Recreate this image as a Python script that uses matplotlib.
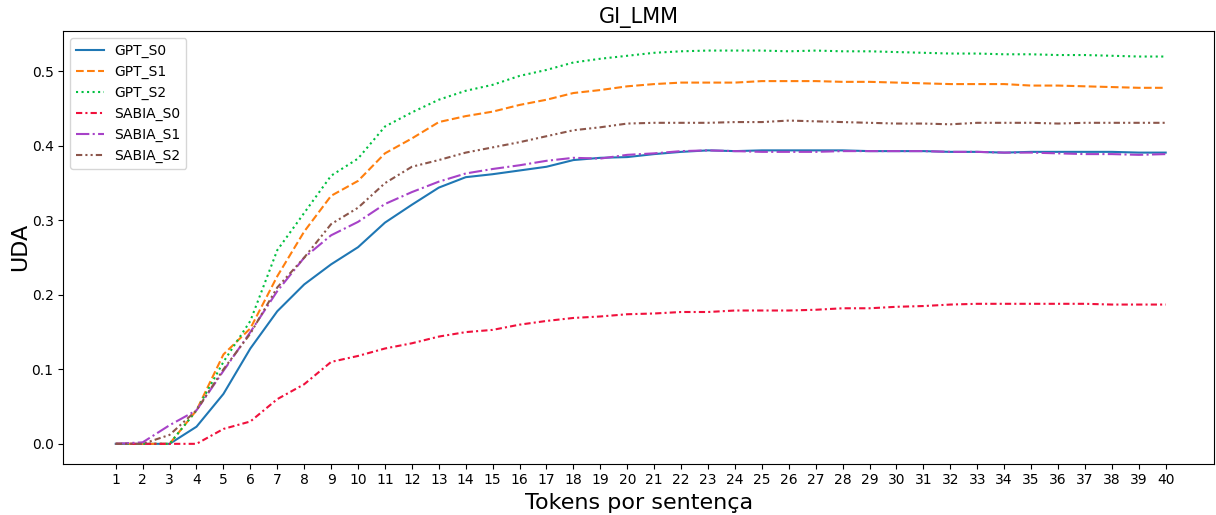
import numpy as np
import matplotlib
matplotlib.use('Agg')
import matplotlib.pyplot as plt

tokens = list(range(1, 41))

gpt_s0 = [0, 0, 0, 0.023, 0.067, 0.128, 0.178, 0.214, 0.241, 0.264,
          0.297, 0.321, 0.344, 0.358, 0.362, 0.367, 0.372, 0.381, 0.384, 0.385,
          0.389, 0.392, 0.394, 0.393, 0.394, 0.394, 0.394, 0.394, 0.393, 0.393,
          0.393, 0.392, 0.392, 0.391, 0.392, 0.392, 0.392, 0.392, 0.391, 0.391]
gpt_s1 = [0, 0, 0, 0.045, 0.12, 0.155, 0.225, 0.285, 0.333, 0.353,
          0.39, 0.41, 0.432, 0.44, 0.446, 0.455, 0.462, 0.471, 0.475, 0.48,
          0.483, 0.485, 0.485, 0.485, 0.487, 0.487, 0.487, 0.486, 0.486, 0.485,
          0.484, 0.483, 0.483, 0.483, 0.481, 0.481, 0.48, 0.479, 0.478, 0.478]
gpt_s2 = [0, 0, 0, 0.045, 0.11, 0.165, 0.26, 0.31, 0.36, 0.383,
          0.426, 0.445, 0.462, 0.474, 0.482, 0.494, 0.502, 0.512, 0.517, 0.521,
          0.525, 0.527, 0.528, 0.528, 0.528, 0.527, 0.528, 0.527, 0.527, 0.526,
          0.525, 0.524, 0.524, 0.523, 0.523, 0.522, 0.522, 0.521, 0.52, 0.52]
sabia_s0 = [0, 0, 0, 0, 0.02, 0.03, 0.06, 0.08, 0.11, 0.118,
            0.128, 0.135, 0.144, 0.15, 0.153, 0.16, 0.165, 0.169, 0.171, 0.174,
            0.175, 0.177, 0.177, 0.179, 0.179, 0.179, 0.18, 0.182, 0.182, 0.184,
            0.185, 0.187, 0.188, 0.188, 0.188, 0.188, 0.188, 0.187, 0.187, 0.187]
sabia_s1 = [0, 0.002, 0.025, 0.045, 0.098, 0.15, 0.205, 0.25, 0.28, 0.298,
            0.322, 0.338, 0.352, 0.363, 0.369, 0.374, 0.38, 0.384, 0.383, 0.388,
            0.39, 0.393, 0.394, 0.393, 0.392, 0.392, 0.392, 0.393, 0.393, 0.393,
            0.393, 0.392, 0.392, 0.391, 0.391, 0.39, 0.389, 0.389, 0.388, 0.389]
sabia_s2 = [0, 0, 0.012, 0.045, 0.1, 0.148, 0.21, 0.25, 0.295, 0.317,
            0.35, 0.372, 0.381, 0.391, 0.398, 0.405, 0.413, 0.421, 0.425, 0.43,
            0.431, 0.431, 0.431, 0.432, 0.432, 0.434, 0.433, 0.432, 0.431, 0.43,
            0.43, 0.429, 0.431, 0.431, 0.431, 0.43, 0.431, 0.431, 0.431, 0.431]

series = [
    ('GPT_S0', gpt_s0, '#1f77b4', '-'),
    ('GPT_S1', gpt_s1, '#ff7f0e', '--'),
    ('GPT_S2', gpt_s2, '#00c040', ':'),
    ('SABIA_S0', sabia_s0, '#f0103c', (0, (3, 1.5, 1, 1.5))),
    ('SABIA_S1', sabia_s1, '#a742c8', '-.'),
    ('SABIA_S2', sabia_s2, '#8c564b', (0, (3, 1.5, 1, 1.5, 1, 1.5))),
]

fig, ax = plt.subplots(figsize=(12.16, 5.15), dpi=100)
for name, vals, col, ls in series:
    ax.plot(tokens, vals, color=col, linestyle=ls, label=name, linewidth=1.5)

ax.set_xticks(tokens)
ax.set_title('GI_LMM', fontsize=15)
ax.set_xlabel('Tokens por sentença', fontsize=16)
ax.set_ylabel('UDA', fontsize=16, labelpad=1)
ax.legend(loc='upper left')

fig.subplots_adjust(left=0.052, right=0.9985, top=0.94, bottom=0.1)
ax.set_xlim(-0.95, 41.8)
fig.savefig('out.png', dpi=100)
